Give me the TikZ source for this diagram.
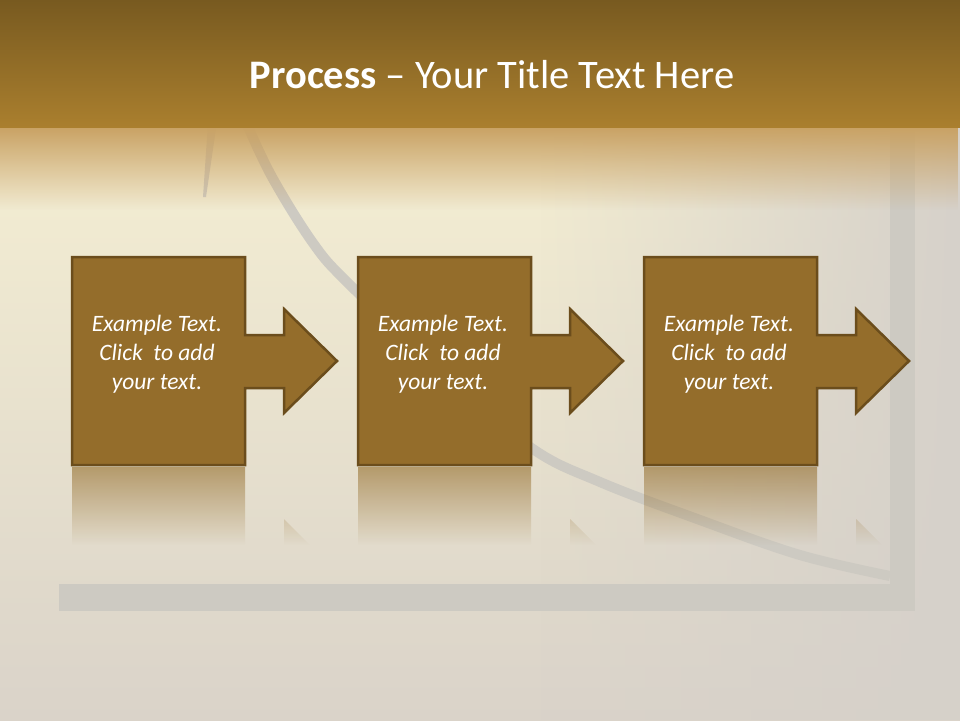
\documentclass[tikz,border=0pt]{standalone}
\usepackage{fontspec}
\setmainfont{Carlito}
\usepackage{tikz}
\usetikzlibrary{fadings}

\definecolor{bartop}{HTML}{785A20}
\definecolor{barbot}{HTML}{AA7F2E}
\definecolor{bgtop}{HTML}{F5EFD3}
\definecolor{bgmid}{HTML}{EDE6CA}
\definecolor{bgbot}{HTML}{DAD3C9}
\definecolor{bggray}{HTML}{D6D1CA}
\definecolor{bandgray}{HTML}{CDCAC2}
\definecolor{tanfade}{HTML}{C9A264}
\definecolor{boxfill}{HTML}{946D2B}
\definecolor{boxline}{HTML}{6B4D1C}

\tikzfading[name=fade down, top color=transparent!0, bottom color=transparent!100]
\tikzfading[name=fade in right, left color=transparent!100, right color=transparent!0]

\begin{document}
\begin{tikzpicture}[x=1pt,y=-1pt,
  band/.style={fill=bandgray},
  stepshape/.style={fill=boxfill, draw=boxline, line width=2.5pt, line join=miter},
  steptext/.style={font=\itshape\fontsize{23.5}{29}\selectfont, align=center, text=white}]
\useasboundingbox (0,0) rectangle (960,720);
% background
\shade[top color=bgtop, middle color=bgmid, bottom color=bgbot] (0,120) rectangle (960,720);
\fill[bggray, path fading=fade in right] (540,120) rectangle (960,720);
% gray frame lines
\fill[band] (890,120) rectangle (915,611);
\fill[band] (59,584) rectangle (915,611);
\draw[bandgray, line width=10pt] plot[smooth, tension=0.6] coordinates
  {(246,122) (272,177) (313,243) (348,283) (440,370) (530,447) (600,482) (700,520) (800,555) (890,576)};
\fill[bandgray] (208,122) -- (217,122) -- (206,197) -- (203,197) -- cycle;
% title bar
\fill[tanfade, path fading=fade down] (0,127) rectangle (960,210);
\shade[top color=bartop, bottom color=barbot] (0,0) rectangle (960,127);
\node[font=\fontsize{40.5}{46}\selectfont, text=white] (title) at (492,75)
  {\textbf{Process} – Your Title Text Here};
% process steps
\foreach \i in {0,1,2}{
\begin{scope}[xshift=\i*286]
  \begin{scope}
    \clip (72,467) rectangle (245,560) (284,519) -- (345,580) -- (284,580) -- cycle;
    \fill[boxfill, opacity=0.6, path fading=fade down] (72,467) rectangle (337,545);
  \end{scope}
  \path[stepshape] (72,257) -- (245,257) -- (245,335) -- (284,335) -- (284,309)
    -- (337,361) -- (284,413) -- (284,388) -- (245,388) -- (245,465) -- (72,465) -- cycle;
  \node[steptext] (t\i) at (157,354) {Example Text.\\Click~ to add\\your text.};
\end{scope}
}
\end{tikzpicture}
\end{document}
